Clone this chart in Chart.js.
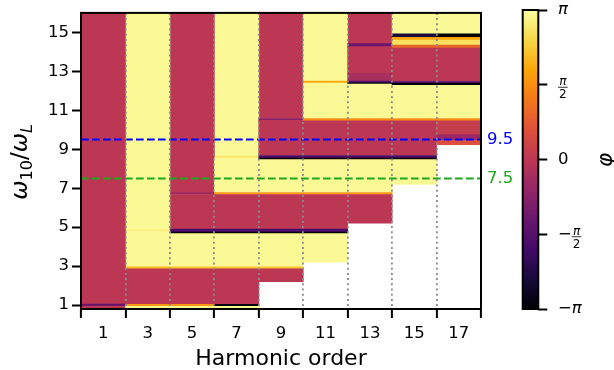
<!DOCTYPE html>
<html>
<head>
<meta charset="utf-8">
<script src="https://cdn.jsdelivr.net/npm/chart.js@4.4.1/dist/chart.umd.min.js"></script>
<style>
  body { margin: 0; background: #fff; }
  #wrap { position: relative; width: 614px; height: 370px; }
  canvas { position: absolute; left: 0; top: 0; }
</style>
</head>
<body>
<div id="wrap">
  <canvas id="phaseMap" width="614" height="370"></canvas>
  <canvas id="colorBar" width="614" height="370"></canvas>
</div>
<script>
// harmonic orders (one column each)
const harmonics = [1, 3, 5, 7, 9, 11, 13, 15, 17];
const yTicks = [1, 3, 5, 7, 9, 11, 13, 15];
const yRange = [0.8, 16];
// reference levels of w10 / wL
const refLevels = [9.5, 7.5];

// phase bands per harmonic: [from, to, phase / pi]
const h1 = [
  [0.8, 0.95, 0], [0.95, 1.05, -0.45], [1.05, 16, 0]
];
const h3 = [
  [0.8, 0.94, 0.96], [0.94, 1.04, 0.55], [1.04, 2.86, 0], [2.86, 2.97, 0.68],
  [2.97, 4.78, 0.97], [4.78, 4.86, 0.9], [4.86, 16, 0.97]
];
const h5 = [
  [0.8, 0.94, 0.96], [0.94, 1.04, 0.55], [1.04, 2.86, 0], [2.86, 2.97, 0.72],
  [2.97, 4.67, 0.97], [4.67, 4.75, -1], [4.75, 4.9, -0.55], [4.9, 6.68, 0],
  [6.68, 6.77, -0.15], [6.77, 16, 0]
];
const h7 = [
  [0.8, 0.94, 0.96], [0.94, 1.04, -0.95], [1.04, 2.86, 0], [2.86, 2.97, 0.72],
  [2.97, 4.67, 0.97], [4.67, 4.75, -1], [4.75, 4.9, -0.55], [4.9, 6.68, 0],
  [6.68, 6.78, 0.55], [6.78, 8.55, 0.97], [8.55, 8.65, 0.88], [8.65, 16, 0.97]
];
const h9 = [
  [2.2, 2.86, 0], [2.86, 2.97, 0.72], [2.97, 4.67, 0.97], [4.67, 4.75, -1],
  [4.75, 4.9, -0.55], [4.9, 6.68, 0], [6.68, 6.78, 0.55], [6.78, 8.47, 0.97],
  [8.47, 8.55, -1], [8.55, 8.68, -0.55], [8.68, 10.48, 0], [10.48, 10.58, -0.25],
  [10.58, 16, 0]
];
const h11 = [
  [3.2, 4.67, 0.97], [4.67, 4.75, -1], [4.75, 4.9, -0.55], [4.9, 6.68, 0],
  [6.68, 6.78, 0.55], [6.78, 8.47, 0.97], [8.47, 8.55, -1], [8.55, 8.68, -0.55],
  [8.68, 10.46, 0], [10.46, 10.58, 0.5], [10.58, 12.4, 0.97], [12.4, 12.5, 0.62],
  [12.5, 16, 0.97]
];
const h13 = [
  [5.2, 6.68, 0], [6.68, 6.78, 0.55], [6.78, 8.47, 0.97], [8.47, 8.55, -1],
  [8.55, 8.68, -0.55], [8.68, 10.46, 0], [10.46, 10.58, 0.5], [10.58, 12.34, 0.97],
  [12.34, 12.42, -0.9], [12.42, 12.5, -0.5], [12.5, 12.9, -0.1], [12.9, 14.27, 0],
  [14.27, 14.42, -0.4], [14.42, 16, 0]
];
const h15 = [
  [7.2, 8.47, 0.97], [8.47, 8.55, -1], [8.55, 8.68, -0.55], [8.68, 10.46, 0],
  [10.46, 10.58, 0.5], [10.58, 12.28, 0.97], [12.28, 12.38, -1], [12.38, 12.48, -0.55],
  [12.48, 14.2, 0], [14.2, 14.35, 0.3], [14.35, 14.6, 0.85], [14.6, 14.75, 0.6],
  [14.75, 14.92, -0.8], [14.92, 16, 0.97]
];
const h17 = [
  [9.23, 9.45, 0.2], [9.45, 9.75, -0.15], [9.75, 10.46, 0.05], [10.46, 10.58, 0.5],
  [10.58, 12.28, 0.97], [12.28, 12.38, -1], [12.38, 12.48, -0.55], [12.48, 14.2, 0],
  [14.2, 14.35, 0.3], [14.35, 14.6, 0.85], [14.6, 14.75, 0.6], [14.75, 14.92, -1],
  [14.92, 16, 0.97]
];

// colour bar ticks
const cbTicks = [-Math.PI, -Math.PI / 2, 0, Math.PI / 2, Math.PI];
const cbTickLabels = ['−π', '−π/2', '0', 'π/2', 'π'];

const refColors = ['#0000ff', '#1ca81c'];

// inferno, sampled at 0, 0.1, ..., 1
const inferno = [
  [0, 0, 4], [22, 11, 57], [66, 10, 104], [106, 23, 110], [147, 38, 103],
  [188, 55, 84], [221, 81, 58], [243, 120, 25], [252, 165, 10], [246, 215, 70],
  [252, 255, 164]
];

function phaseColor(p) {
  const t = Math.min(1, Math.max(0, (p + 1) / 2)) * 10;
  const i = Math.min(9, Math.floor(t));
  const f = t - i;
  const a = inferno[i], b = inferno[i + 1];
  const c = a.map((v, k) => Math.round(v + (b[k] - v) * f));
  return `rgb(${c[0]}, ${c[1]}, ${c[2]})`;
}

Chart.defaults.font.family = '"DejaVu Sans", sans-serif';
Chart.defaults.color = '#000';

const columns = [h1, h3, h5, h7, h9, h11, h13, h15, h17];
const maxBands = Math.max(...columns.map(c => c.length));
const bandSets = [];
for (let i = 0; i < maxBands; i++) {
  bandSets.push({
    type: 'bar',
    data: columns.map(c => c[i] ? [c[i][0], c[i][1]] : null),
    backgroundColor: columns.map(c => c[i] ? phaseColor(c[i][2]) : 'rgba(0,0,0,0)'),
    borderWidth: 0,
    barPercentage: 1,
    categoryPercentage: 1,
    grouped: false,
    order: 2
  });
}

const refSets = refLevels.map((v, i) => ({
  type: 'line',
  xAxisID: 'xl',
  data: [{ x: 0, y: v }, { x: 18, y: v }],
  borderColor: refColors[i],
  borderWidth: 2,
  borderDash: [7.7, 3.3],
  pointRadius: 0,
  order: 0
}));

const framePlugin = {
  id: 'frame',
  afterDraw(chart) {
    const a = chart.chartArea;
    const ctx = chart.ctx;
    ctx.save();
    ctx.lineWidth = 2;
    ctx.strokeStyle = '#000';
    ctx.strokeRect(a.left, a.top, a.right - a.left, a.bottom - a.top);
    ctx.restore();
  }
};

const refLabels = {
  id: 'refLabels',
  afterDraw(chart) {
    const ctx = chart.ctx;
    const y = chart.scales.y;
    ctx.save();
    ctx.font = '16.5px "DejaVu Sans"';
    ctx.textAlign = 'left';
    ctx.textBaseline = 'middle';
    refLevels.forEach((v, i) => {
      ctx.fillStyle = refColors[i];
      ctx.fillText(String(v), chart.chartArea.right + 6, y.getPixelForValue(v));
    });
    ctx.restore();
  }
};

// y title: omega_10 / omega_L, drawn rotated
const yTitle = {
  id: 'yTitle',
  afterDraw(chart) {
    const ctx = chart.ctx;
    const size = 23;
    const parts = [
      { t: 'ω', it: true }, { t: '10', sub: true }, { t: '/' },
      { t: 'ω', it: true }, { t: 'L', it: true, sub: true }
    ];
    const fontOf = p => `${p.it ? 'italic ' : ''}${p.sub ? size * 0.7 : size}px "DejaVu Sans"`;
    ctx.save();
    let total = 0;
    parts.forEach(p => { ctx.font = fontOf(p); p.w = ctx.measureText(p.t).width; total += p.w; });
    ctx.translate(27, 162);
    ctx.rotate(-Math.PI / 2);
    ctx.fillStyle = '#000';
    ctx.textBaseline = 'alphabetic';
    let x = -total / 2;
    parts.forEach(p => {
      ctx.font = fontOf(p);
      ctx.fillText(p.t, x, p.sub ? size * 0.2 : 0);
      x += p.w;
    });
    ctx.restore();
  }
};

new Chart(document.getElementById('phaseMap'), {
  type: 'bar',
  data: {
    labels: harmonics.map(String),
    datasets: [...bandSets, ...refSets]
  },
  options: {
    responsive: false,
    animation: false,
    layout: { padding: { left: 0, top: 10, right: 133, bottom: 0 } },
    scales: {
      x: {
        type: 'category',
        offset: true,
        afterFit: s => { s.height = 61; },
        grid: {
          z: 1,
          offset: true,
          color: c => (c.index === 0 || c.index === harmonics.length) ? 'rgba(0,0,0,0)' : '#8a8a8a',
          lineWidth: 1.8,
          tickLength: 9,
          tickWidth: 2,
          tickColor: '#000'
        },
        border: { display: false, dash: [2, 3.2] },
        ticks: { font: { size: 16.5 }, padding: 6, maxRotation: 0, autoSkip: false },
        title: {
          display: true,
          text: 'Harmonic order',
          font: { size: 22, lineHeight: 1 },
          padding: { top: 0, bottom: 0 }
        }
      },
      xl: {
        type: 'linear',
        position: 'bottom',
        min: 0,
        max: 18,
        offset: false,
        grid: { offset: false },
        display: false
      },
      y: {
        type: 'linear',
        min: yRange[0],
        max: yRange[1],
        afterFit: s => { s.width = 81; },
        afterBuildTicks: s => { s.ticks = yTicks.map(v => ({ value: v })); },
        grid: { drawOnChartArea: false, tickLength: 9, tickWidth: 2, tickColor: '#000' },
        border: { display: false },
        ticks: { font: { size: 16.5 }, padding: 3 }
      }
    },
    plugins: { legend: { display: false }, tooltip: { enabled: false } }
  },
  plugins: [framePlugin, refLabels, yTitle]
});

// colour bar labels: pi fractions, and the phi label
const cbLabels = {
  id: 'cbLabels',
  afterDraw(chart) {
    const ctx = chart.ctx;
    const s = chart.scales.y;
    const a = chart.chartArea;
    ctx.save();
    ctx.fillStyle = '#000';
    ctx.strokeStyle = '#000';
    ctx.lineWidth = 2;
    ctx.strokeRect(a.left, a.top, a.right - a.left, a.bottom - a.top);
    ctx.textAlign = 'left';
    cbTicks.forEach((v, i) => {
      const y = s.getPixelForValue(v);
      let lab = cbTickLabels[i];
      let x = 558;
      ctx.textBaseline = 'middle';
      if (lab.startsWith('−')) {
        ctx.font = '16.5px "DejaVu Sans"';
        ctx.fillText('−', x, y);
        x += ctx.measureText('−').width;
        lab = lab.slice(1);
      }
      if (lab.includes('/')) {
        const [num, den] = lab.split('/');
        ctx.font = 'italic 12px "DejaVu Sans"';
        const wn = ctx.measureText(num).width;
        ctx.font = '12px "DejaVu Sans"';
        const wd = ctx.measureText(den).width;
        const w = Math.max(wn, wd) + 2;
        ctx.textBaseline = 'alphabetic';
        ctx.font = 'italic 12px "DejaVu Sans"';
        ctx.fillText(num, x + (w - wn) / 2, y + 0.5);
        ctx.font = '12px "DejaVu Sans"';
        ctx.fillText(den, x + (w - wd) / 2, y + 13.5);
        ctx.lineWidth = 0.8;
        ctx.beginPath();
        ctx.moveTo(x, y + 2.5);
        ctx.lineTo(x + w, y + 2.5);
        ctx.stroke();
      } else {
        ctx.font = (lab === 'π' ? 'italic ' : '') + '16.5px "DejaVu Sans"';
        ctx.fillText(lab, x, y);
      }
    });
    ctx.translate(606, 160);
    ctx.rotate(-Math.PI / 2);
    ctx.textAlign = 'center';
    ctx.textBaseline = 'middle';
    ctx.font = 'italic 22px "DejaVu Sans"';
    ctx.fillText('φ', 0, 0);
    ctx.restore();
  }
};

new Chart(document.getElementById('colorBar'), {
  type: 'bar',
  data: {
    labels: ['phase'],
    datasets: [{
      data: [[cbTicks[0], cbTicks[cbTicks.length - 1]]],
      backgroundColor: c => {
        const area = c.chart.chartArea;
        if (!area) return '#000';
        const g = c.chart.ctx.createLinearGradient(0, area.bottom, 0, area.top);
        inferno.forEach((rgb, i) => g.addColorStop(i / 10, `rgb(${rgb[0]}, ${rgb[1]}, ${rgb[2]})`));
        return g;
      },
      borderWidth: 0,
      barPercentage: 1,
      categoryPercentage: 1
    }]
  },
  options: {
    responsive: false,
    animation: false,
    layout: { padding: { left: 522.7, top: 10, right: 614 - 538.3 - 9, bottom: 61 } },
    scales: {
      x: { display: false },
      y: {
        position: 'right',
        min: cbTicks[0],
        max: cbTicks[cbTicks.length - 1],
        afterFit: s => { s.width = 9; },
        afterBuildTicks: s => { s.ticks = cbTicks.map(v => ({ value: v })); },
        ticks: { display: false },
        grid: { drawOnChartArea: false, tickLength: 9, tickWidth: 2, tickColor: '#000' },
        border: { display: false }
      }
    },
    plugins: { legend: { display: false }, tooltip: { enabled: false } }
  },
  plugins: [cbLabels]
});
</script>
</body>
</html>
